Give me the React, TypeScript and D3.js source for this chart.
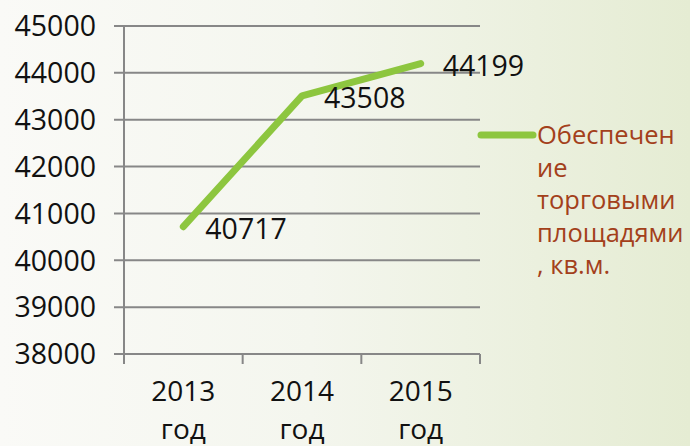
import React, { useEffect, useRef } from 'react';
import * as d3 from 'd3';

const years = ['2013', '2014', '2015'];
const yearSuffix = 'год';
const values = [40717, 43508, 44199];
const yTicks = [38000, 39000, 40000, 41000, 42000, 43000, 44000, 45000];
const legendLines = ['Обеспечен', 'ие', 'торговыми', 'площадями', ', кв.м.'];

export default function App() {
  const ref = useRef<SVGSVGElement>(null);

  useEffect(() => {
    const width = 690;
    const height = 446;
    const font = "'Open Sans', 'Liberation Sans', sans-serif";
    const green = '#8dc63f';
    const grid = '#878787';

    const svg = d3.select(ref.current);
    svg.selectAll('*').remove();
    svg.attr('viewBox', [0, 0, width, height]);

    // background gradient
    const defs = svg.append('defs');
    const grad = defs
      .append('linearGradient')
      .attr('id', 'bg')
      .attr('x1', '0%')
      .attr('y1', '0%')
      .attr('x2', '100%')
      .attr('y2', '0%');
    grad.append('stop').attr('offset', '0%').attr('stop-color', '#fafaf7');
    grad.append('stop').attr('offset', '45%').attr('stop-color', '#f4f6ee');
    grad.append('stop').attr('offset', '100%').attr('stop-color', '#e5ecd3');
    svg.append('rect').attr('width', width).attr('height', height).attr('fill', 'url(#bg)');

    const left = 124;
    const right = 480;
    const top = 26;
    const bottom = 354;

    const x = d3.scaleBand().domain(years).range([left, right]);
    const y = d3.scaleLinear().domain([38000, 45000]).range([bottom, top]);

    // gridlines + y ticks
    const g = svg.append('g');
    g.selectAll('line.grid')
      .data(yTicks)
      .enter()
      .append('line')
      .attr('x1', left - 10)
      .attr('x2', right)
      .attr('y1', (d) => y(d))
      .attr('y2', (d) => y(d))
      .attr('stroke', grid)
      .attr('stroke-width', 2);

    g.append('line')
      .attr('x1', left)
      .attr('x2', left)
      .attr('y1', top)
      .attr('y2', bottom + 10)
      .attr('stroke', grid)
      .attr('stroke-width', 2);

    // x ticks
    g.selectAll('line.xt')
      .data(years)
      .enter()
      .append('line')
      .attr('x1', (d) => (x(d) as number) + x.bandwidth())
      .attr('x2', (d) => (x(d) as number) + x.bandwidth())
      .attr('y1', bottom)
      .attr('y2', bottom + 10)
      .attr('stroke', grid)
      .attr('stroke-width', 2);

    g.selectAll('text.yl')
      .data(yTicks)
      .enter()
      .append('text')
      .attr('x', 96)
      .attr('y', (d) => y(d))
      .attr('dy', '0.36em')
      .attr('text-anchor', 'end')
      .attr('font-family', font)
      .attr('font-size', 28.5)
      .attr('fill', '#111')
      .text((d) => String(d));

    const xl = g
      .selectAll('text.xl')
      .data(years)
      .enter()
      .append('text')
      .attr('text-anchor', 'middle')
      .attr('font-family', font)
      .attr('font-size', 28)
      .attr('fill', '#111');
    xl.append('tspan')
      .attr('x', (d) => (x(d) as number) + x.bandwidth() / 2)
      .attr('y', 401)
      .text((d) => d);
    xl.append('tspan')
      .attr('x', (d) => (x(d) as number) + x.bandwidth() / 2)
      .attr('y', 439)
      .text(yearSuffix);

    // line
    const line = d3
      .line<number>()
      .x((d, i) => (x(years[i]) as number) + x.bandwidth() / 2)
      .y((d) => y(d));
    svg
      .append('path')
      .datum(values)
      .attr('d', line)
      .attr('fill', 'none')
      .attr('stroke', green)
      .attr('stroke-width', 7)
      .attr('stroke-linecap', 'round')
      .attr('stroke-linejoin', 'round');

    // data labels
    svg
      .selectAll('text.dl')
      .data(values)
      .enter()
      .append('text')
      .attr('x', (d, i) => (x(years[i]) as number) + x.bandwidth() / 2 + 22)
      .attr('y', (d) => y(d) + 2)
      .attr('dy', '0.36em')
      .attr('font-family', font)
      .attr('font-size', 28.5)
      .attr('fill', '#111')
      .text((d) => String(d));

    // legend
    svg
      .append('line')
      .attr('x1', 481)
      .attr('x2', 533)
      .attr('y1', 135)
      .attr('y2', 135)
      .attr('stroke', green)
      .attr('stroke-width', 7)
      .attr('stroke-linecap', 'round');
    svg
      .selectAll('text.lg')
      .data(legendLines)
      .enter()
      .append('text')
      .attr('x', 537)
      .attr('y', (d, i) => 135 + i * 32.5)
      .attr('dy', '0.36em')
      .attr('font-family', font)
      .attr('font-size', 25.5)
      .attr('fill', '#a3401b')
      .text((d) => d);
  });

  return (
    <svg
      ref={ref}
      width={690}
      height={446}
      style={{ position: 'absolute', left: 0, top: 0, display: 'block' }}
    />
  );
}
